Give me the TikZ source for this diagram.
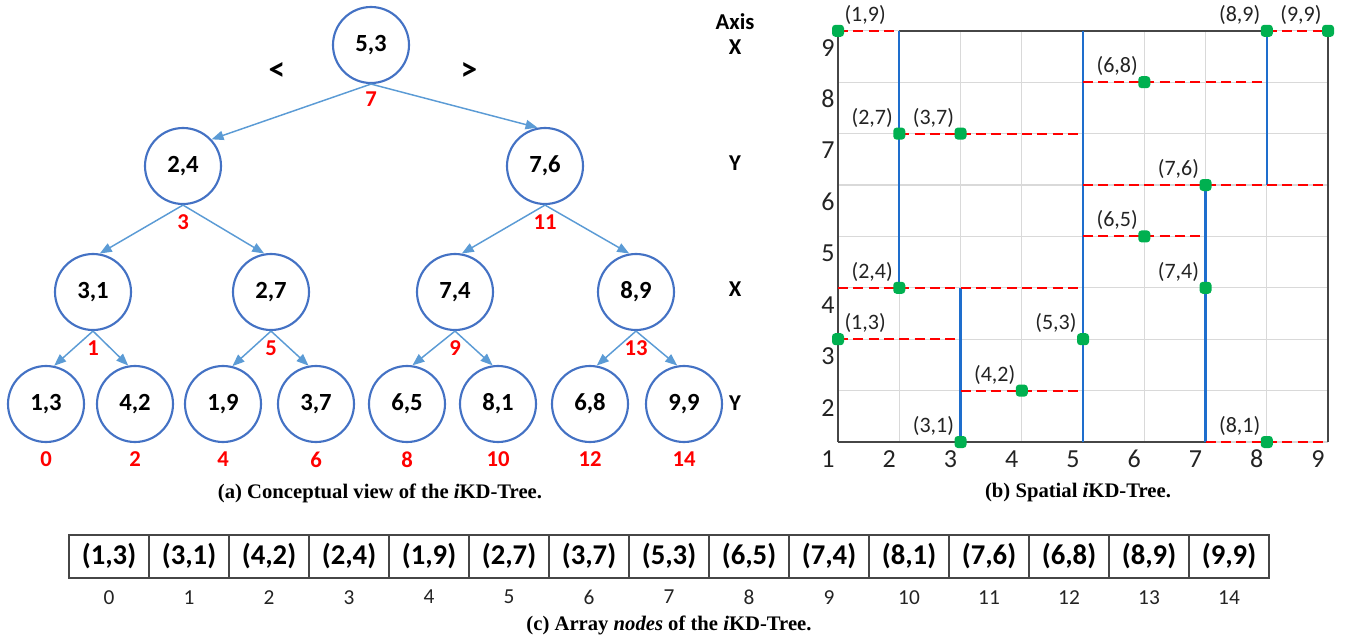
\documentclass[tikz,border=0pt]{standalone}
\usepackage{fontspec}
\setmainfont{Liberation Serif}
\setsansfont{Carlito}
\usetikzlibrary{positioning,arrows.meta}
\definecolor{nodeblue}{RGB}{68,114,196}
\definecolor{edgeblue}{RGB}{91,155,213}
\definecolor{splitblue}{RGB}{30,110,205}
\definecolor{dotgreen}{RGB}{0,176,80}
\definecolor{gridgray}{RGB}{217,217,217}
\definecolor{framegray}{RGB}{70,70,70}
\definecolor{textgray}{RGB}{35,35,35}

\begin{document}
\begin{tikzpicture}[
    x=0.75pt, y=-0.75pt,
    tnode/.style={circle, draw=nodeblue, line width=1.6pt, minimum size=57pt, inner sep=0pt, font=\sffamily\bfseries\fontsize{18.5}{20}\selectfont},
    idx/.style={text=red, inner sep=0pt, font=\sffamily\bfseries\fontsize{17}{19}\selectfont},
    arrow/.style={-{Triangle[length=9pt, width=7pt]}, edgeblue, line width=1.1pt},
    axislab/.style={font=\sffamily\bfseries\fontsize{17}{19}\selectfont},
    cmp/.style={font=\sffamily\bfseries\fontsize{25}{27}\selectfont},
    caption/.style={font=\rmfamily\bfseries\fontsize{15.5}{18}\selectfont},
    gridline/.style={gridgray, line width=0.8pt},
    plotframe/.style={framegray, line width=1.2pt},
    xsplit/.style={splitblue, line width=1.7pt},
    ysplit/.style={red, line width=1.5pt, dash pattern=on 7.5pt off 4pt},
    ptdot/.style={rectangle, rounded corners=2.5pt, fill=dotgreen, minimum size=9pt, inner sep=0pt},
    ptlab/.style={text=textgray, inner sep=0pt, font=\sffamily\fontsize{16.5}{18}\selectfont},
    ticklab/.style={text=textgray, xshift=-7.5pt, yshift=-12.75pt, font=\sffamily\fontsize{19.5}{21}\selectfont},
    cell/.style={rectangle, draw=framegray, line width=0.8pt, minimum width=60pt, minimum height=32.25pt, inner sep=0pt, outer sep=0pt, font=\sffamily\bfseries\fontsize{21.5}{23}\selectfont},
    cellidx/.style={text=textgray, inner sep=0pt, font=\sffamily\fontsize{16}{18}\selectfont}
]
\useasboundingbox (0,0) rectangle (1347,639);

% ===== (a) CONCEPTUAL TREE =====
\node[tnode] (n53) at (371,45) {5,3};
\node[tnode] (n24) at (183,166) {2,4};
\node[tnode] (n76) at (545,166) {7,6};
\node[tnode] (n31) at (93,292) {3,1};
\node[tnode] (n27) at (271,292) {2,7};
\node[tnode] (n74) at (455,292) {7,4};
\node[tnode] (n89) at (636,292) {8,9};
\node[tnode] (n13) at (46,404) {1,3};
\node[tnode] (n42) at (135,404) {4,2};
\node[tnode] (n19) at (223,404) {1,9};
\node[tnode] (n37) at (316,404) {3,7};
\node[tnode] (n65) at (407,404) {6,5};
\node[tnode] (n81) at (498,404) {8,1};
\node[tnode] (n68) at (590,404) {6,8};
\node[tnode] (n99) at (684,404) {9,9};

% ===== ARRAY INDICES IN TREE =====
\node[idx, below=5.5pt of n53] (i7) {7};
\node[idx, below=7pt of n24] (i3) {3};
\node[idx, below=7pt of n76] (i11) {11};
\node[idx, below=7pt of n31] (i1) {1};
\node[idx, below=7pt of n27] (i5) {5};
\node[idx, below=7pt of n74] (i9) {9};
\node[idx, below=7pt of n89] (i13) {13};
\node[idx, below=6.5pt of n13] (i0) {0};
\node[idx, below=6.5pt of n42] (i2) {2};
\node[idx, below=6.5pt of n19] (i4) {4};
\node[idx, below=6.5pt of n37] (i6) {6};
\node[idx, below=6.5pt of n65] (i8) {8};
\node[idx, below=6.5pt of n81] (i10) {10};
\node[idx, below=6.5pt of n68] (i12) {12};
\node[idx, below=6.5pt of n99] (i14) {14};

\node[cmp] (lt) at (277,72) {<};
\node[cmp] (gt) at (469,72) {>};

% ===== AXIS COLUMN =====
\node[axislab] (axis) at (735,22) {Axis};
\node[axislab] (ax0) at (735,47) {X};
\node[axislab] (ax1) at (735,163) {Y};
\node[axislab] (ax2) at (735,289) {X};
\node[axislab] (ax3) at (735,403) {Y};

% ===== TREE ARROWS =====
\draw[arrow] (n53.south) -- (n24.43);
\draw[arrow] (n53.south) -- (n76.101);
\draw[arrow] (n24.south) -- (n31.80);
\draw[arrow] (n24.south) -- (n27.100);
\draw[arrow] (n76.south) -- (n74.80);
\draw[arrow] (n76.south) -- (n89.100);
\draw[arrow] (n31.south) -- (n13.78);
\draw[arrow] (n31.south) -- (n42.100);
\draw[arrow] (n27.south) -- (n19.76);
\draw[arrow] (n27.south) -- (n37.101);
\draw[arrow] (n74.south) -- (n65.82);
\draw[arrow] (n74.south) -- (n81.98);
\draw[arrow] (n89.south) -- (n68.80);
\draw[arrow] (n89.south) -- (n99.100);

\node[caption] (capa) at (380,493) {(a) Conceptual view of the \textit{i}KD-Tree.};

% ===== (b) SPATIAL TREE =====
\begin{scope}[shift={(582.56pt,-370.05pt)}, x=45.94pt, y=38.55pt]
\draw[gridline, step=1] (1,1) grid (9,9);
\draw[plotframe] (1,1) -- (1,9);
\draw[plotframe] (9,1) -- (9,9);
\draw[plotframe] (2,9) -- (8,9);
\draw[plotframe] (1,1) -- (7,1);

% splits on X
\draw[xsplit] (5,1) -- (5,9);
\draw[xsplit] (2,4) -- (2,9);
\draw[xsplit] (3,1) -- (3,4);
\draw[xsplit] (7,1) -- (7,6);
\draw[xsplit] (8,6) -- (8,9);

% splits on Y
\draw[ysplit] (1,9) -- (2,9);
\draw[ysplit] (8,9) -- (9,9);
\draw[ysplit] (5,8) -- (8,8);
\draw[ysplit] (2,7) -- (5,7);
\draw[ysplit] (5,6) -- (9,6);
\draw[ysplit] (5,5) -- (7,5);
\draw[ysplit] (1,4) -- (5,4);
\draw[ysplit] (1,3) -- (3,3);
\draw[ysplit] (3,2) -- (5,2);
\draw[ysplit] (7,1) -- (9,1);

% points
\node[ptdot] (p19) at (1,9) {};
\node[ptdot] (p89) at (8,9) {};
\node[ptdot] (p99) at (9,9) {};
\node[ptdot] (p68) at (6,8) {};
\node[ptdot] (p27) at (2,7) {};
\node[ptdot] (p37) at (3,7) {};
\node[ptdot] (p76) at (7,6) {};
\node[ptdot] (p65) at (6,5) {};
\node[ptdot] (p24) at (2,4) {};
\node[ptdot] (p74) at (7,4) {};
\node[ptdot] (p13) at (1,3) {};
\node[ptdot] (p53) at (5,3) {};
\node[ptdot] (p42) at (4,2) {};
\node[ptdot] (p31) at (3,1) {};
\node[ptdot] (p81) at (8,1) {};

\node[ptlab, above right=0pt of p19] (l19) {(1,9)};
\node[ptlab, above left=0pt of p89] (l89) {(8,9)};
\node[ptlab, above left=0pt of p99] (l99) {(9,9)};
\node[ptlab, above left=0pt of p68] (l68) {(6,8)};
\node[ptlab, above left=0pt of p27] (l27) {(2,7)};
\node[ptlab, above left=0pt of p37] (l37) {(3,7)};
\node[ptlab, above left=0pt of p76] (l76) {(7,6)};
\node[ptlab, above left=0pt of p65] (l65) {(6,5)};
\node[ptlab, above left=0pt of p24] (l24) {(2,4)};
\node[ptlab, above left=0pt of p74] (l74) {(7,4)};
\node[ptlab, above right=0pt of p13] (l13) {(1,3)};
\node[ptlab, above left=0pt of p53] (l53) {(5,3)};
\node[ptlab, above left=0pt of p42] (l42) {(4,2)};
\node[ptlab, above left=0pt of p31] (l31) {(3,1)};
\node[ptlab, above left=0pt of p81] (l81) {(8,1)};

% tick labels
\node[ticklab] (tx1) at (1,1) {1};
\node[ticklab] (tx2) at (2,1) {2};
\node[ticklab] (tx3) at (3,1) {3};
\node[ticklab] (tx4) at (4,1) {4};
\node[ticklab] (tx5) at (5,1) {5};
\node[ticklab] (tx6) at (6,1) {6};
\node[ticklab] (tx7) at (7,1) {7};
\node[ticklab] (tx8) at (8,1) {8};
\node[ticklab] (tx9) at (9,1) {9};
\node[ticklab] (ty2) at (1,2) {2};
\node[ticklab] (ty3) at (1,3) {3};
\node[ticklab] (ty4) at (1,4) {4};
\node[ticklab] (ty5) at (1,5) {5};
\node[ticklab] (ty6) at (1,6) {6};
\node[ticklab] (ty7) at (1,7) {7};
\node[ticklab] (ty8) at (1,8) {8};
\node[ticklab] (ty9) at (1,9) {9};
\end{scope}

\node[caption] (capb) at (1078,493) {(b) Spatial \textit{i}KD-Tree.};

% ===== (c) ARRAY =====
\node[cell] (a0) at (109,556.5) {(1,3)};
\node[cell, right=0pt of a0] (a1) {(3,1)};
\node[cell, right=0pt of a1] (a2) {(4,2)};
\node[cell, right=0pt of a2] (a3) {(2,4)};
\node[cell, right=0pt of a3] (a4) {(1,9)};
\node[cell, right=0pt of a4] (a5) {(2,7)};
\node[cell, right=0pt of a5] (a6) {(3,7)};
\node[cell, right=0pt of a6] (a7) {(5,3)};
\node[cell, right=0pt of a7] (a8) {(6,5)};
\node[cell, right=0pt of a8] (a9) {(7,4)};
\node[cell, right=0pt of a9] (a10) {(8,1)};
\node[cell, right=0pt of a10] (a11) {(7,6)};
\node[cell, right=0pt of a11] (a12) {(6,8)};
\node[cell, right=0pt of a12] (a13) {(8,9)};
\node[cell, right=0pt of a13] (a14) {(9,9)};

\node[cellidx, below=9pt of a0] (k0) {0};
\node[cellidx, below=9pt of a1] (k1) {1};
\node[cellidx, below=9pt of a2] (k2) {2};
\node[cellidx, below=9pt of a3] (k3) {3};
\node[cellidx, below=9pt of a4] (k4) {4};
\node[cellidx, below=9pt of a5] (k5) {5};
\node[cellidx, below=9pt of a6] (k6) {6};
\node[cellidx, below=9pt of a7] (k7) {7};
\node[cellidx, below=9pt of a8] (k8) {8};
\node[cellidx, below=9pt of a9] (k9) {9};
\node[cellidx, below=9pt of a10] (k10) {10};
\node[cellidx, below=9pt of a11] (k11) {11};
\node[cellidx, below=9pt of a12] (k12) {12};
\node[cellidx, below=9pt of a13] (k13) {13};
\node[cellidx, below=9pt of a14] (k14) {14};

\node[caption] (capc) at (669,625) {(c) Array \textit{nodes} of the \textit{i}KD-Tree.};

\end{tikzpicture}
\end{document}
